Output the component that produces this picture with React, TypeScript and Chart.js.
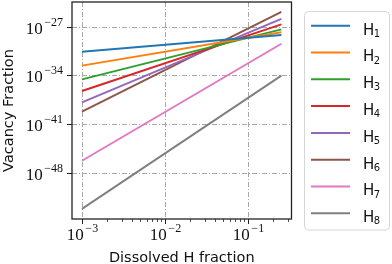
import React, { useEffect, useRef } from "react";
import { Chart, registerables } from "chart.js";

Chart.register(...registerables);

// ---- data ----
const xValues = [0.001, 0.25];
const seriesNames = ["1", "2", "3", "4", "5", "6", "7", "8"];
const H1 = [2.5e-31, 6.3e-29];
const H2 = [2.5e-33, 1.6e-28];
const H3 = [2.7e-35, 4.2e-28];
const H4 = [5.6e-37, 2.2e-27];
const H5 = [1.3e-38, 1.3e-26];
const H6 = [5.9e-40, 1.4e-25];
const H7 = [5.2e-47, 3.5e-30];
const H8 = [6.3e-54, 9.1e-35];
const seriesValues = [H1, H2, H3, H4, H5, H6, H7, H8];
const colors = ["#1f77b4", "#ff7f0e", "#2ca02c", "#d62728", "#9467bd", "#8c564b", "#e377c2", "#7f7f7f"];

// ---- tick labels ----
const xMajorExponents = [-3, -2, -1];
const xMinorTicks = [2e-3, 3e-3, 4e-3, 5e-3, 6e-3, 7e-3, 8e-3, 9e-3, 2e-2, 3e-2, 4e-2, 5e-2, 6e-2, 7e-2, 8e-2, 9e-2, 2e-1, 3e-1];
const yMajorExponents = [-27, -34, -41, -48];
const xTitle = "Dissolved H fraction";
const yTitle = "Vacancy Fraction";

const SERIF = '"Liberation Serif", serif';
const SANS = '"DejaVu Sans", sans-serif';
const AXIS = "#222222";
const GRID = "#a8a8a8";

function drawPow(ctx: CanvasRenderingContext2D, exp: number, x: number, baseY: number, align: "right" | "center") {
  const base = "10";
  const sup = (exp < 0 ? "\u2212" : "") + String(Math.abs(exp));
  ctx.font = `17px ${SERIF}`;
  const wb = ctx.measureText(base).width;
  ctx.font = `12px ${SERIF}`;
  const we = ctx.measureText(sup).width;
  const gap = 1.5;
  const total = wb + gap + we;
  const x0 = align === "right" ? x - total : x - total / 2;
  ctx.textAlign = "left";
  ctx.textBaseline = "alphabetic";
  ctx.fillStyle = "#111";
  ctx.font = `17px ${SERIF}`;
  ctx.fillText(base, x0, baseY);
  ctx.font = `12px ${SERIF}`;
  ctx.fillText(sup, x0 + wb + gap, baseY - 8.3);
}

const decorPlugin = {
  id: "mplDecor",
  beforeDatasetsDraw(chart: any) {
    const { ctx, chartArea: a, scales } = chart;
    const xs = scales.x, ys = scales.y;
    ctx.save();
    ctx.strokeStyle = GRID;
    ctx.lineWidth = 1;
    ctx.setLineDash([5, 2, 1, 2]);
    for (const e of xMajorExponents) {
      const px = Math.round(xs.getPixelForValue(Math.pow(10, e))) + 0.5;
      ctx.beginPath(); ctx.moveTo(px, a.top); ctx.lineTo(px, a.bottom); ctx.stroke();
    }
    for (const e of yMajorExponents) {
      const py = Math.round(ys.getPixelForValue(Math.pow(10, e))) + 0.5;
      ctx.beginPath(); ctx.moveTo(a.left, py); ctx.lineTo(a.right, py); ctx.stroke();
    }
    ctx.restore();
  },
  afterDraw(chart: any) {
    const { ctx, chartArea: a, scales } = chart;
    const xs = scales.x, ys = scales.y;
    ctx.save();
    // spines
    ctx.strokeStyle = AXIS;
    ctx.lineWidth = 1.3;
    ctx.setLineDash([]);
    ctx.strokeRect(a.left, a.top, a.right - a.left, a.bottom - a.top);
    // ticks
    ctx.lineWidth = 1;
    for (const e of xMajorExponents) {
      const px = Math.round(xs.getPixelForValue(Math.pow(10, e))) + 0.5;
      ctx.beginPath(); ctx.moveTo(px, a.bottom); ctx.lineTo(px, a.bottom + 5); ctx.stroke();
      drawPow(ctx, e, px, 240, "center");
    }
    ctx.lineWidth = 0.8;
    for (const v of xMinorTicks) {
      const px = Math.round(xs.getPixelForValue(v)) + 0.5;
      if (px < a.left || px > a.right) continue;
      ctx.beginPath(); ctx.moveTo(px, a.bottom); ctx.lineTo(px, a.bottom + 3); ctx.stroke();
    }
    ctx.lineWidth = 1;
    for (const e of yMajorExponents) {
      const py = Math.round(ys.getPixelForValue(Math.pow(10, e))) + 0.5;
      ctx.beginPath(); ctx.moveTo(a.left - 5, py); ctx.lineTo(a.left, py); ctx.stroke();
      drawPow(ctx, e, 63, py + 6.5, "right");
    }
    // axis titles
    ctx.fillStyle = "#111";
    ctx.font = `14.5px ${SANS}`;
    ctx.textAlign = "center";
    ctx.textBaseline = "alphabetic";
    ctx.fillText(xTitle, (a.left + a.right) / 2, 261.5);
    ctx.save();
    ctx.translate(13, (a.top + a.bottom) / 2);
    ctx.rotate(-Math.PI / 2);
    ctx.fillText(yTitle, 0, 0);
    ctx.restore();
    // legend
    const lx = 304.5, ly = 11.5, lw = 85, lh = 218.5, r = 4;
    ctx.beginPath();
    ctx.moveTo(lx + r, ly);
    ctx.arcTo(lx + lw, ly, lx + lw, ly + lh, r);
    ctx.arcTo(lx + lw, ly + lh, lx, ly + lh, r);
    ctx.arcTo(lx, ly + lh, lx, ly, r);
    ctx.arcTo(lx, ly, lx + lw, ly, r);
    ctx.closePath();
    ctx.fillStyle = "rgba(255,255,255,0.85)";
    ctx.fill();
    ctx.strokeStyle = "#d6d6d6";
    ctx.lineWidth = 1;
    ctx.stroke();
    chart.data.datasets.forEach((ds: any, i: number) => {
      const y = 25.7 + i * 26.8;
      ctx.strokeStyle = ds.borderColor;
      ctx.lineWidth = 2;
      ctx.beginPath(); ctx.moveTo(311, y); ctx.lineTo(350, y); ctx.stroke();
      ctx.fillStyle = "#111";
      ctx.textAlign = "left";
      ctx.font = `15px ${SANS}`;
      ctx.fillText("H", 363, y + 8.8);
      const hw = ctx.measureText("H").width;
      ctx.font = `10px ${SANS}`;
      ctx.fillText(seriesNames[i], 363 + hw - 0.5, y + 11);
    });
    ctx.restore();
  },
};

export default function App() {
  const canvasRef = useRef<HTMLCanvasElement | null>(null);
  useEffect(() => {
    document.body.style.margin = "0";
    const canvas = canvasRef.current;
    if (!canvas) return;
    const chart = new Chart(canvas, {
      type: "line",
      data: {
        datasets: seriesValues.map((vals, i) => ({
          label: "H" + seriesNames[i],
          data: vals.map((v, j) => ({ x: xValues[j], y: v })),
          borderColor: colors[i],
          backgroundColor: colors[i],
          borderWidth: 1.9,
          pointRadius: 0,
          tension: 0,
          fill: false,
        })),
      },
      options: {
        responsive: false,
        animation: false,
        events: [],
        layout: { padding: { left: 0, top: 2, right: 100.5, bottom: 0 } },
        plugins: { legend: { display: false }, tooltip: { enabled: false }, title: { display: false } },
        scales: {
          x: {
            type: "logarithmic",
            bounds: "data",
            min: 7.59e-4,
            max: 0.331,
            grid: { display: false },
            border: { display: false },
            ticks: { display: false },
            afterFit: (s: any) => { s.height = 45; },
          },
          y: {
            type: "logarithmic",
            bounds: "data",
            min: 2.19e-55,
            max: 3.57e-24,
            grid: { display: false },
            border: { display: false },
            ticks: { display: false },
            afterFit: (s: any) => { s.width = 72; },
          },
        },
      },
      plugins: [decorPlugin],
    } as any);
    return () => chart.destroy();
  }, []);
  return (
    <div style={{ width: 392, height: 264 }}>
      <canvas ref={canvasRef} width={392} height={264} style={{ display: "block" }} />
    </div>
  );
}
